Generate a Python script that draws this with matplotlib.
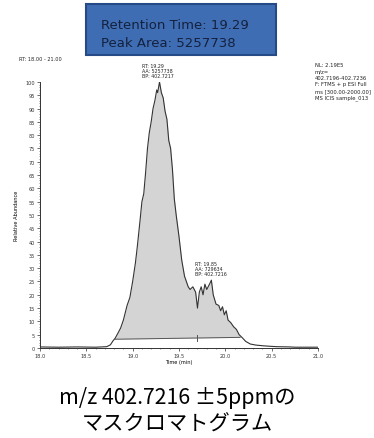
import matplotlib.pyplot as plt
import matplotlib.patches as mpatches
import numpy as np

# extracted ion chromatogram, m/z 402.7216 +/- 5 ppm
time = [18.00, 18.20, 18.40, 18.60, 18.72, 18.76, 18.79, 18.81, 18.84, 18.87,
        18.90, 18.94, 18.97, 19.00, 19.03, 19.05, 19.08, 19.10, 19.12, 19.14,
        19.16, 19.18, 19.20, 19.22, 19.24, 19.26, 19.27, 19.29, 19.31, 19.33,
        19.35, 19.37, 19.39, 19.41, 19.43, 19.45, 19.47, 19.50, 19.53, 19.56,
        19.60, 19.62, 19.65, 19.68, 19.70, 19.72, 19.74, 19.76, 19.78, 19.80,
        19.83, 19.85, 19.87, 19.90, 19.93, 19.95, 19.97, 19.99, 20.01, 20.03,
        20.06, 20.09, 20.12, 20.15, 20.18, 20.22, 20.27, 20.33, 20.42, 20.55,
        20.70, 20.75, 21.00]
intensity = [0.4, 0.3, 0.4, 0.3, 0.5, 1.2, 2.8, 3.6, 5.5, 7.5,
             10.5, 16, 19, 25, 32, 38, 48, 55, 58, 66,
             75, 81, 85, 90, 93, 97, 96, 100, 96, 94,
             89, 86, 78, 75, 67, 56, 50, 42, 33, 27,
             23, 22, 23, 21, 15, 21, 23, 20, 24, 22,
             24, 25.5, 20, 16.5, 16, 14, 15.5, 12.5, 14, 10.5,
             9.5, 8, 7, 5, 4, 2.5, 1.5, 1.1, 0.8, 0.5,
             0.4, 0.3, 0.3]

# integrated peaks: (start, split, end) and baseline levels
peak_start, peak_split, peak_end = 18.81, 19.70, 20.16
base_start, base_end = 3.3, 4.0

peaks = [
    ("RT: 19.29", "AA: 5257738", "BP: 402.7217", 19.27, 100),
    ("RT: 19.85", "AA: 729634", "BP: 402.7216", 19.84, 25.5),
]

t = np.array(time)
y = np.array(intensity)

fig = plt.figure(figsize=(3.74, 4.39), dpi=100)
ax = fig.add_axes([0.107, 0.205, 0.743, 0.606])

# shaded peak area above the integration baseline
tt = np.linspace(peak_start, peak_end, 400)
yy = np.interp(tt, t, y)
bb = np.interp(tt, [peak_start, peak_end], [base_start, base_end])
ax.fill_between(tt, bb, yy, where=yy >= bb, color="#d4d4d4", lw=0)
ax.plot([peak_start, peak_end], [base_start, base_end], color="#555555", lw=0.7)
split_base = np.interp(peak_split, [peak_start, peak_end], [base_start, base_end])
ax.plot([peak_split, peak_split], [split_base - 1.2, split_base + 1.2],
        color="#555555", lw=0.7)
ax.plot(t, y, color="#333333", lw=0.8)

for rt, aa, bp, x, h in peaks:
    ax.text(x, h + 1.5, rt + "\n" + aa + "\n" + bp, fontsize=3.4,
            ha="center", va="bottom", linespacing=1.0, color="#222222",
            multialignment="left")

ax.set_xlim(18.0, 21.0)
ax.set_ylim(0, 100)
ax.set_xticks(np.arange(18.0, 21.01, 0.5))
ax.set_xticks(np.arange(18.0, 21.01, 0.1), minor=True)
ax.set_yticks(np.arange(0, 101, 5))
ax.set_yticks(np.arange(0, 101, 1), minor=True)
ax.set_xticklabels(["%.1f" % v for v in np.arange(18.0, 21.01, 0.5)])
ax.tick_params(labelsize=3.6, length=2, width=0.5, pad=1.5, colors="#333333")
ax.tick_params(which="minor", length=1, width=0.4, colors="#333333")
for s in ["top", "right"]:
    ax.spines[s].set_visible(False)
for s in ["left", "bottom"]:
    ax.spines[s].set_linewidth(0.7)
    ax.spines[s].set_color("#333333")
ax.set_xlabel("Time (min)", fontsize=3.6, labelpad=1)
ax.set_ylabel("Relative Abundance", fontsize=3.6, labelpad=5)

fig.text(0.05, 0.862, "RT: 18.00 - 21.00", fontsize=3.6, color="#222222")
fig.text(0.842, 0.856,
         "NL: 2.19E5\nm/z=\n402.7196-402.7236\nF: FTMS + p ESI Full\n"
         "ms [300.00-2000.00]\nMS ICIS sample_013",
         fontsize=3.8, color="#222222", linespacing=1.35, va="top")

# blue summary box
box = mpatches.Rectangle((0.229, 0.873), 0.509, 0.115, transform=fig.transFigure,
                         facecolor="#3f6db3", edgecolor="#264a86", lw=1.5)
fig.patches.append(box)
fig.text(0.27, 0.943, "Retention Time: 19.29", fontsize=9.5, color="#14213f",
         va="center")
fig.text(0.27, 0.902, "Peak Area: 5257738", fontsize=9.5, color="#14213f",
         va="center")

fig.text(0.475, 0.094, "m/z 402.7216 ±5ppmの", fontsize=15.3, ha="center",
         va="center", family=["Noto Sans CJK JP", "DejaVu Sans"])
fig.text(0.475, 0.033, "マスクロマトグラム", fontsize=15.3, ha="center",
         va="center", family=["Noto Sans CJK JP", "DejaVu Sans"])

fig.savefig("out.png", dpi=100)
